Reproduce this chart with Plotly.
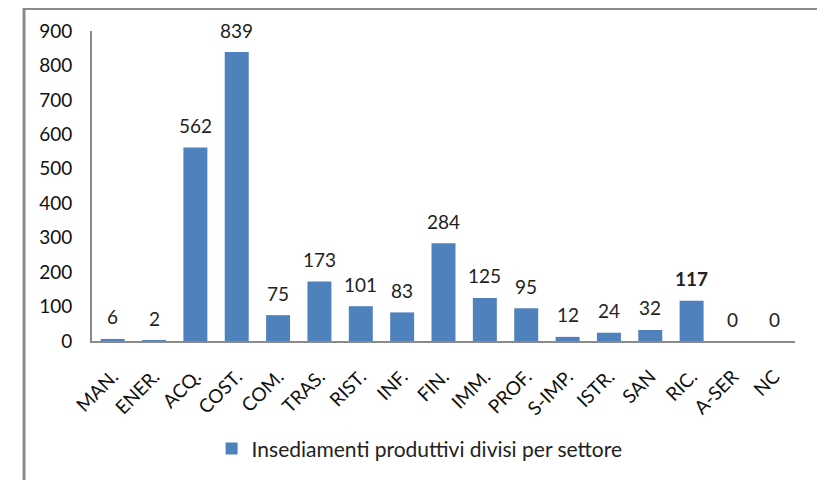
import plotly.graph_objects as go

categories = ["MAN.", "ENER.", "ACQ.", "COST.", "COM.", "TRAS.", "RIST.", "INF.", "FIN.",
              "IMM.", "PROF.", "S-IMP.", "ISTR.", "SAN", "RIC.", "A-SER", "NC"]
values = [6, 2, 562, 839, 75, 173, 101, 83, 284, 125, 95, 12, 24, 32, 117, 0, 0]
series_name = "Insediamenti produttivi divisi per settore"
y_ticks = [0, 100, 200, 300, 400, 500, 600, 700, 800, 900]

FONT = "Lato, 'Open Sans', sans-serif"
BAR = "#4F81BD"

fig = go.Figure()
fig.add_trace(go.Bar(
    x=categories, y=values, name=series_name,
    marker=dict(color=BAR, line=dict(width=0)),
    showlegend=True,
))

for c, v in zip(categories, values):
    txt = f"<b>{v}</b>" if c == "RIC." else str(v)
    fig.add_annotation(x=c, y=v, text=txt, showarrow=False, yshift=22,
                       font=dict(family=FONT, size=19, color="#222"))

# outer chart border
fig.add_shape(type="rect", xref="paper", yref="paper",
              x0=-0.0967, x1=1.034, y0=-0.6, y1=1.0726,
              line=dict(color="#8a8a8a", width=3), fillcolor="rgba(0,0,0,0)", layer="below")

fig.update_layout(
    width=825, height=480,
    margin=dict(l=84, r=38, t=23, b=147),
    paper_bgcolor="white", plot_bgcolor="white",
    bargap=0.42,
    font=dict(family=FONT, size=19, color="#111"),
    showlegend=True,
    legend=dict(orientation="h", x=0.466, xanchor="center", y=-0.348, yanchor="middle",
                font=dict(family=FONT, size=21, color="#222")),
    xaxis=dict(showline=True, linecolor="#8a8a8a", linewidth=2, tickangle=-45,
               ticks="", showgrid=False, ticklabelstandoff=15,
               tickfont=dict(family=FONT, size=19, color="#111")),
    yaxis=dict(range=[0, 900], tickvals=y_ticks, showline=True, linecolor="#8a8a8a",
               linewidth=2, ticks="", showgrid=False, zeroline=False,
               ticklabelstandoff=14, tickfont=dict(family=FONT, size=19, color="#111")),
)

fig.write_html("out.html")
